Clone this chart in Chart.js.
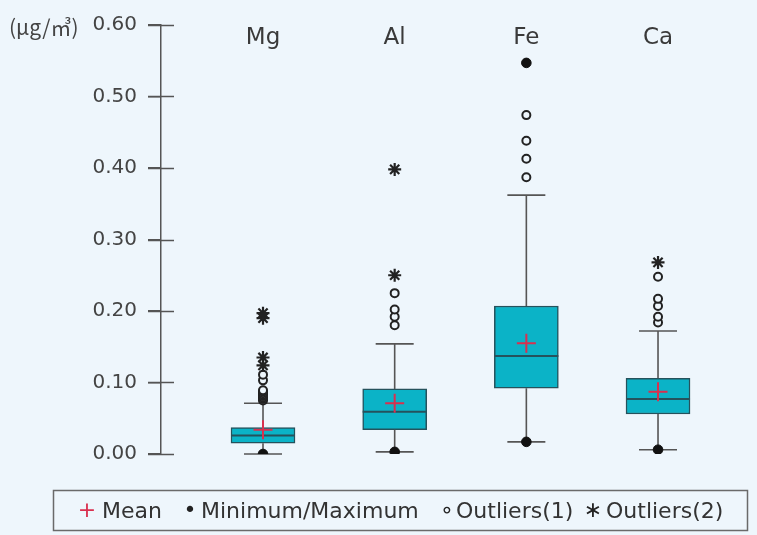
<!DOCTYPE html>
<html>
<head>
<meta charset="utf-8">
<script src="https://cdn.jsdelivr.net/npm/chart.js@4"></script>
<style>
  html, body { margin: 0; padding: 0; background: #eef6fc; }
  canvas { display: block; }
</style>
</head>
<body>
<canvas id="c" width="757" height="535"></canvas>
<script>
// Elements and their box statistics (µg/m³)
const categories = ['Mg', 'Al', 'Fe', 'Ca'];
const q1 = [0.015, 0.034, 0.092, 0.056];
const median = [0.026, 0.059, 0.137, 0.077];
const q3 = [0.037, 0.091, 0.207, 0.106];
const mean = [0.034, 0.071, 0.155, 0.087];
const whiskerLow = [0.000, 0.003, 0.017, 0.006];
const whiskerHigh = [0.071, 0.154, 0.362, 0.172];
const minMax = [[0.000], [0.003], [0.017, 0.547], [0.006]];
const outliers1 = [
  [0.075, 0.077, 0.079, 0.081, 0.083, 0.085, 0.087, 0.089, 0.103, 0.111],
  [0.180, 0.192, 0.202, 0.225],
  [0.387, 0.413, 0.438, 0.474],
  [0.184, 0.192, 0.207, 0.217, 0.248]
];
const outliers2 = [
  [0.124, 0.135, 0.190, 0.197],
  [0.250, 0.398],
  [],
  [0.268]
];
const yTickValues = [0.00, 0.10, 0.20, 0.30, 0.40, 0.50, 0.60];
const unitLabel = '(\u03bcg/\u33a5)';
const legendItems = [
  { symbol: '+', color: '#d9304f', text: 'Mean', sx: 87, tx: 102 },
  { symbol: '\u2022', color: '#222', text: 'Minimum/Maximum', sx: 190, tx: 201 },
  { symbol: '\u2218', color: '#222', text: 'Outliers(1)', sx: 447, tx: 456 },
  { symbol: '\u2217', color: '#222', text: 'Outliers(2)', sx: 593, tx: 606 }
];

const BG = '#eef6fc';
const AXIS = '#555';
const BOX_FILL = '#0bb3c7';
const BOX_EDGE = '#25525c';
const FONT = '"DejaVu Sans", "Noto Sans CJK KR", sans-serif';

const flatPoints = (groups) => groups.flatMap((vals, i) => vals.map(v => ({ x: i, y: v })));

// whiskers, caps and median lines, drawn right after the boxes
const boxDecor = {
  id: 'boxDecor',
  afterDatasetDraw(chart, args) {
    if (args.index !== 0) return;
    const { ctx, scales: { x, y } } = chart;
    ctx.save();
    categories.forEach((_, i) => {
      const cx = x.getPixelForValue(i);
      const cap = 19;
      ctx.strokeStyle = AXIS;
      ctx.lineWidth = 1.6;
      ctx.beginPath();
      ctx.moveTo(cx, y.getPixelForValue(q3[i]));
      ctx.lineTo(cx, y.getPixelForValue(whiskerHigh[i]));
      ctx.moveTo(cx, y.getPixelForValue(q1[i]));
      ctx.lineTo(cx, y.getPixelForValue(whiskerLow[i]));
      const yh = y.getPixelForValue(whiskerHigh[i]);
      const yl = y.getPixelForValue(whiskerLow[i]);
      ctx.moveTo(cx - cap, yh); ctx.lineTo(cx + cap, yh);
      ctx.moveTo(cx - cap, yl); ctx.lineTo(cx + cap, yl);
      ctx.stroke();
      const meta = chart.getDatasetMeta(0).data[i];
      const half = meta.width / 2;
      const ym = y.getPixelForValue(median[i]);
      ctx.strokeStyle = BOX_EDGE;
      ctx.lineWidth = 2;
      ctx.beginPath();
      ctx.moveTo(cx - half, ym); ctx.lineTo(cx + half, ym);
      ctx.stroke();
    });
    ctx.restore();
  }
};

// inner half of the tick marks, category names, unit label and legend box
const decorations = {
  id: 'decorations',
  afterDraw(chart) {
    const { ctx, scales: { x, y }, chartArea } = chart;
    ctx.save();
    ctx.strokeStyle = AXIS;
    ctx.lineWidth = 1.5;
    ctx.beginPath();
    yTickValues.forEach(v => {
      const py = Math.round(y.getPixelForValue(v)) + 0.5;
      ctx.moveTo(chartArea.left - 13, py);
      ctx.lineTo(chartArea.left + 13, py);
    });
    ctx.stroke();

    ctx.fillStyle = '#3a3a3a';
    ctx.font = '23px ' + FONT;
    ctx.textAlign = 'center';
    ctx.textBaseline = 'middle';
    categories.forEach((c, i) => ctx.fillText(c, x.getPixelForValue(i), 38));

    ctx.font = '21px "Noto Sans CJK KR", "DejaVu Sans", sans-serif';
    ctx.textAlign = 'left';
    ctx.fillStyle = '#444';
    ctx.fillText(unitLabel, 9, 27);

    ctx.strokeStyle = '#6a6a6a';
    ctx.lineWidth = 1.5;
    ctx.strokeRect(53.5, 490.5, 694, 40);
    ctx.font = '22px ' + FONT;
    ctx.textBaseline = 'middle';
    legendItems.forEach(it => {
      ctx.fillStyle = it.color;
      ctx.textAlign = 'center';
      ctx.fillText(it.symbol, it.sx, 511);
      ctx.fillStyle = '#333';
      ctx.textAlign = 'left';
      ctx.fillText(it.text, it.tx, 512);
    });
    ctx.restore();
  }
};

new Chart(document.getElementById('c'), {
  type: 'bar',
  data: {
    datasets: [
      {
        type: 'bar',
        data: categories.map((_, i) => ({ x: i, y: [q1[i], q3[i]] })),
        backgroundColor: BOX_FILL,
        borderColor: BOX_EDGE,
        borderWidth: 1.5,
        borderSkipped: false,
        barThickness: 64,
        order: 10
      },
      {
        type: 'scatter',
        data: flatPoints(outliers1),
        pointStyle: 'circle',
        pointRadius: 4,
        pointBackgroundColor: BG,
        pointBorderColor: '#222',
        pointBorderWidth: 2,
        order: 3
      },
      {
        type: 'scatter',
        data: flatPoints(outliers2),
        pointStyle: 'star',
        pointRadius: 6.5,
        pointBorderColor: '#222',
        pointBorderWidth: 2.2,
        order: 2
      },
      {
        type: 'scatter',
        data: flatPoints(minMax),
        pointStyle: 'circle',
        pointRadius: 4.8,
        pointBackgroundColor: '#111',
        pointBorderColor: '#111',
        pointBorderWidth: 1,
        order: 1
      },
      {
        type: 'scatter',
        data: mean.map((v, i) => ({ x: i, y: v })),
        pointStyle: 'cross',
        pointRadius: 9.5,
        pointBorderColor: '#d9304f',
        pointBorderWidth: 2,
        order: 0
      }
    ]
  },
  options: {
    responsive: false,
    animation: false,
    events: [],
    layout: { padding: { top: 25, bottom: 81, left: 0, right: 17 } },
    plugins: { legend: { display: false }, tooltip: { enabled: false } },
    scales: {
      x: {
        type: 'linear',
        min: -0.7747,
        max: 3.6226,
        offset: false,
        display: false
      },
      y: {
        min: 0,
        max: 0.6,
        afterFit(scale) { scale.width = 161; },
        afterBuildTicks(scale) { scale.ticks = yTickValues.map(v => ({ value: v })); },
        grid: { display: true, drawOnChartArea: false, drawTicks: true, tickLength: 13, color: AXIS, lineWidth: 1.5 },
        border: { display: true, color: AXIS, width: 1.5 },
        ticks: {
          padding: 11,
          color: '#444',
          font: { family: FONT, size: 20 },
          callback: v => Number(v).toFixed(2)
        }
      }
    }
  },
  plugins: [boxDecor, decorations]
});
</script>
</body>
</html>
